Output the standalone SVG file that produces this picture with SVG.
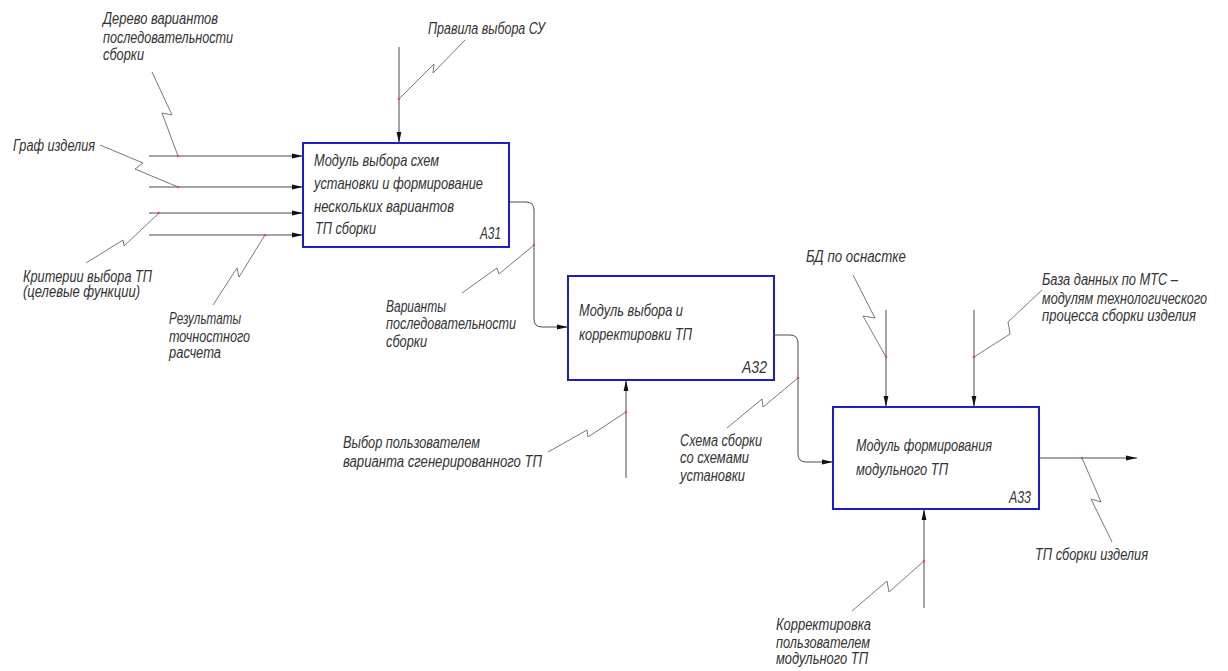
<svg xmlns="http://www.w3.org/2000/svg" width="1228" height="671" viewBox="0 0 1228 671">
  <style>
    .box { fill: #ffffff; stroke: #1c1cc8; stroke-width: 2; }
    .flow { fill: none; stroke: #4a4a4a; stroke-width: 1; }
    .lead { fill: none; stroke: #6a6a6a; stroke-width: 0.9; }
    .dot { fill: #e05050; }
    text { font-family: "Liberation Sans", "DejaVu Sans", sans-serif; font-style: italic; fill: #333333; }
    .bt { font-size: 17px; }
    .lt { font-size: 16px; }
  </style>
  <defs>
    <marker id="arrow" viewBox="0 0 11 6" refX="11" refY="3" markerWidth="11" markerHeight="6" markerUnits="userSpaceOnUse" orient="auto">
      <path d="M0,0.6 L11,3 L0,5.4 Z" fill="#111111"/>
    </marker>
  </defs>

  <rect width="1228" height="671" fill="#ffffff"/>

  <!-- activity blocks -->
  <g id="A31">
    <rect class="box" x="303" y="143" width="206" height="104"/>
    <text class="bt" x="314" y="166" textLength="125" lengthAdjust="spacingAndGlyphs">Модуль выбора схем</text>
    <text class="bt" x="314" y="189" textLength="169" lengthAdjust="spacingAndGlyphs">установки и формирование</text>
    <text class="bt" x="314" y="212" textLength="140" lengthAdjust="spacingAndGlyphs">нескольких вариантов</text>
    <text class="bt" x="315" y="234" textLength="61" lengthAdjust="spacingAndGlyphs">ТП сборки</text>
    <text class="bt" x="480" y="239" textLength="21" lengthAdjust="spacingAndGlyphs">А31</text>
  </g>
  <g id="A32">
    <rect class="box" x="568" y="276" width="206" height="104"/>
    <text class="bt" x="579" y="316" textLength="104" lengthAdjust="spacingAndGlyphs">Модуль выбора и</text>
    <text class="bt" x="579" y="340" textLength="113" lengthAdjust="spacingAndGlyphs">корректировки ТП</text>
    <text class="bt" x="742" y="373" textLength="25" lengthAdjust="spacingAndGlyphs">А32</text>
  </g>
  <g id="A33">
    <rect class="box" x="833" y="407" width="206" height="102"/>
    <text class="bt" x="856" y="451" textLength="136" lengthAdjust="spacingAndGlyphs">Модуль формирования</text>
    <text class="bt" x="856" y="475" textLength="92" lengthAdjust="spacingAndGlyphs">модульного ТП</text>
    <text class="bt" x="1009" y="503" textLength="22" lengthAdjust="spacingAndGlyphs">А33</text>
  </g>

  <!-- arrows, leader squiggles and attachment points -->
  <g id="connectors">
    <!-- inputs of A31 -->
    <line class="flow" x1="149" y1="156" x2="303" y2="156" marker-end="url(#arrow)"/>
    <line class="flow" x1="149" y1="187" x2="303" y2="187" marker-end="url(#arrow)"/>
    <line class="flow" x1="149" y1="213" x2="303" y2="213" marker-end="url(#arrow)"/>
    <line class="flow" x1="149" y1="235" x2="303" y2="235" marker-end="url(#arrow)"/>
    <!-- control of A31 -->
    <line class="flow" x1="399" y1="47" x2="399" y2="143" marker-end="url(#arrow)"/>
    <!-- A31 to A32 -->
    <path class="flow" d="M509,202 H526 Q534,202 534,210 V319 Q534,327 542,327 H568" marker-end="url(#arrow)"/>
    <!-- mechanism of A32 -->
    <line class="flow" x1="626" y1="478" x2="626" y2="380" marker-end="url(#arrow)"/>
    <!-- A32 to A33 -->
    <path class="flow" d="M774,335 H790 Q798,335 798,343 V454 Q798,462 806,462 H833" marker-end="url(#arrow)"/>
    <!-- controls of A33 -->
    <line class="flow" x1="886" y1="310" x2="886" y2="407" marker-end="url(#arrow)"/>
    <line class="flow" x1="974" y1="310" x2="974" y2="407" marker-end="url(#arrow)"/>
    <!-- mechanism of A33 -->
    <line class="flow" x1="924" y1="608" x2="924" y2="509" marker-end="url(#arrow)"/>
    <!-- output of A33 -->
    <line class="flow" x1="1039" y1="458" x2="1137" y2="458" marker-end="url(#arrow)"/>

    <!-- leader squiggles -->
    <polyline class="lead" points="152,72 172,115 162,113 178,156"/>
    <polyline class="lead" points="100,145 143,163 135,169 178,187"/>
    <polyline class="lead" points="86,263 123,240 124,246 159,213"/>
    <polyline class="lead" points="213,305 237,268 239,277 265,235"/>
    <polyline class="lead" points="465,40 433,73 434,64 399,99"/>
    <polyline class="lead" points="462,293 497,268 499,274 534,245"/>
    <polyline class="lead" points="548,452 587,430 588,437 626,412"/>
    <polyline class="lead" points="727,428 762,399 763,407 798,378"/>
    <polyline class="lead" points="853,275 875,318 863,316 886,357"/>
    <polyline class="lead" points="1042,290 1008,322 1010,334 974,357"/>
    <polyline class="lead" points="1082,458 1101,502 1091,499 1112,542"/>
    <polyline class="lead" points="852,611 887,581 889,592 924,561"/>

    <!-- attachment points -->
    <circle class="dot" cx="178" cy="156" r="1.3"/>
    <circle class="dot" cx="178" cy="187" r="1.3"/>
    <circle class="dot" cx="159" cy="213" r="1.3"/>
    <circle class="dot" cx="265" cy="235" r="1.3"/>
    <circle class="dot" cx="399" cy="99" r="1.3"/>
    <circle class="dot" cx="534" cy="245" r="1.3"/>
    <circle class="dot" cx="626" cy="412" r="1.3"/>
    <circle class="dot" cx="798" cy="378" r="1.3"/>
    <circle class="dot" cx="886" cy="357" r="1.3"/>
    <circle class="dot" cx="974" cy="357" r="1.3"/>
    <circle class="dot" cx="1082" cy="458" r="1.3"/>
    <circle class="dot" cx="924" cy="561" r="1.3"/>
  </g>

  <!-- arrow labels -->
  <g id="labels">
    <text class="lt" x="103" y="24" textLength="115" lengthAdjust="spacingAndGlyphs">Дерево вариантов</text>
    <text class="lt" x="103" y="43" textLength="130" lengthAdjust="spacingAndGlyphs">последовательности</text>
    <text class="lt" x="103" y="60" textLength="41" lengthAdjust="spacingAndGlyphs">сборки</text>

    <text class="lt" x="13" y="151" textLength="82" lengthAdjust="spacingAndGlyphs">Граф изделия</text>

    <text class="lt" x="23" y="282" textLength="129" lengthAdjust="spacingAndGlyphs">Критерии выбора ТП</text>
    <text class="lt" x="23" y="297" textLength="117" lengthAdjust="spacingAndGlyphs">(целевые функции)</text>

    <text class="lt" x="169" y="324" textLength="72" lengthAdjust="spacingAndGlyphs">Результаты</text>
    <text class="lt" x="169" y="342" textLength="81" lengthAdjust="spacingAndGlyphs">точностного</text>
    <text class="lt" x="169" y="358" textLength="52" lengthAdjust="spacingAndGlyphs">расчета</text>

    <text class="lt" x="428" y="34" textLength="117" lengthAdjust="spacingAndGlyphs">Правила выбора СУ</text>

    <text class="lt" x="386" y="312" textLength="60" lengthAdjust="spacingAndGlyphs">Варианты</text>
    <text class="lt" x="386" y="329" textLength="130" lengthAdjust="spacingAndGlyphs">последовательности</text>
    <text class="lt" x="386" y="347" textLength="41" lengthAdjust="spacingAndGlyphs">сборки</text>

    <text class="lt" x="343" y="448" textLength="137" lengthAdjust="spacingAndGlyphs">Выбор пользователем</text>
    <text class="lt" x="343" y="467" textLength="199" lengthAdjust="spacingAndGlyphs">варианта сгенерированного ТП</text>

    <text class="lt" x="680" y="446" textLength="82" lengthAdjust="spacingAndGlyphs">Схема сборки</text>
    <text class="lt" x="680" y="463" textLength="69" lengthAdjust="spacingAndGlyphs">со схемами</text>
    <text class="lt" x="680" y="481" textLength="65" lengthAdjust="spacingAndGlyphs">установки</text>

    <text class="lt" x="806" y="262" textLength="100" lengthAdjust="spacingAndGlyphs">БД по оснастке</text>

    <text class="lt" x="1042" y="285" textLength="136" lengthAdjust="spacingAndGlyphs">База данных по МТС –</text>
    <text class="lt" x="1042" y="304" textLength="165" lengthAdjust="spacingAndGlyphs">модулям технологического</text>
    <text class="lt" x="1042" y="321" textLength="154" lengthAdjust="spacingAndGlyphs">процесса сборки изделия</text>

    <text class="lt" x="1035" y="560" textLength="113" lengthAdjust="spacingAndGlyphs">ТП сборки изделия</text>

    <text class="lt" x="776" y="630" textLength="95" lengthAdjust="spacingAndGlyphs">Корректировка</text>
    <text class="lt" x="776" y="648" textLength="94" lengthAdjust="spacingAndGlyphs">пользователем</text>
    <text class="lt" x="776" y="664" textLength="92" lengthAdjust="spacingAndGlyphs">модульного ТП</text>
  </g>
</svg>
